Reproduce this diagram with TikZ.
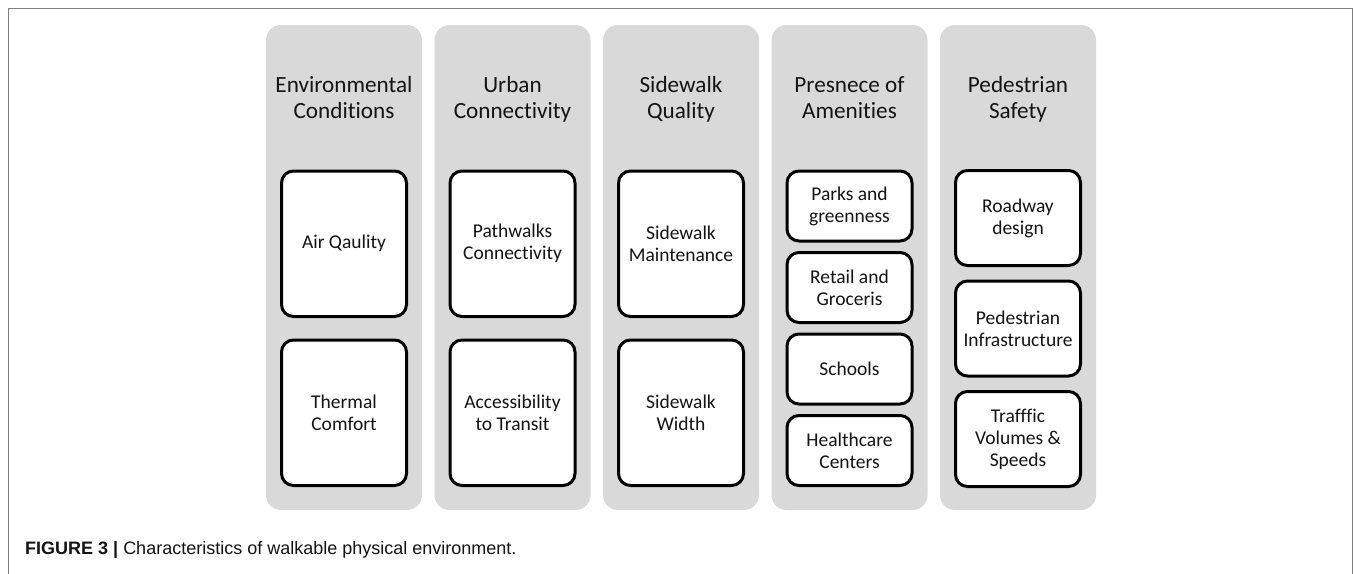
\documentclass[tikz,border=0pt]{standalone}
\usepackage{fontspec}
\setmainfont{Carlito}[Ligatures={NoCommon}]
\newfontfamily\capfont{Liberation Sans}
\definecolor{colbg}{RGB}{217,217,217}
\definecolor{framegray}{RGB}{128,128,128}
\definecolor{txt}{RGB}{20,20,20}
\begin{document}
\begin{tikzpicture}[x=1pt,y=-1pt,
  colbox/.style={fill=colbg, draw=none, rounded corners=15pt, minimum width=156pt, minimum height=485pt, inner sep=0pt},
  coltitle/.style={font=\fontsize{23.2}{26}\selectfont, align=center, inner sep=0pt, text=txt},
  item/.style={draw=black, line width=3pt, fill=white, rounded corners=12pt, minimum width=125pt, align=center, inner sep=0pt, font=\fontsize{19.5}{22}\selectfont, text=txt},
  tall/.style={item, minimum height=145.5pt},
  small/.style={item, minimum height=70pt},
  mid/.style={item, minimum height=95pt},
]
\useasboundingbox (0,0) rectangle (1354,573);
\fill[white] (0,0) rectangle (1354,573);
\draw[framegray, line width=1.6pt] (8.5,580) -- (8.5,8.5) -- (1352.5,8.5) -- (1352.5,580);

% columns
\node[colbox] (c1) at (344,267.5) {};
\node[colbox] (c2) at (512.5,267.5) {};
\node[colbox] (c3) at (681,267.5) {};
\node[colbox] (c4) at (849.5,267.5) {};
\node[colbox] (c5) at (1018,267.5) {};

% titles
\node[coltitle] (t1) at (344,100) {\strut Environmental\\\strut Conditions};
\node[coltitle] (t2) at (512.5,100) {\strut Urban\\\strut Connectivity};
\node[coltitle] (t3) at (681,100) {\strut Sidewalk\\\strut Quality};
\node[coltitle] (t4) at (849.5,100) {\strut Presnece of\\\strut Amenities};
\node[coltitle] (t5) at (1018,100) {\strut Pedestrian\\\strut Safety};

% column 1
\node[tall] (a1) at (344,243.75) {Air Qaulity};
\node[tall] (a2) at (344,412.75) {Thermal\\Comfort};
% column 2
\node[tall] (b1) at (512.5,243.75) {Pathwalks\\Connectivity};
\node[tall] (b2) at (512.5,412.75) {Accessibility\\to Transit};
% column 3
\node[tall] (s1) at (681,243.75) {Sidewalk\\Maintenance};
\node[tall] (s2) at (681,412.75) {Sidewalk\\Width};
% column 4
\node[small] (p1) at (849.5,206) {Parks and\\greenness};
\node[small] (p2) at (849.5,287.5) {Retail and\\Groceris};
\node[small] (p3) at (849.5,369) {Schools};
\node[small] (p4) at (849.5,450.5) {Healthcare\\Centers};
% column 5
\node[mid] (e1) at (1018,218) {Roadway\\design};
\node[mid] (e2) at (1018,328.5) {Pedestrian\\Infrastructure};
\node[mid] (e3) at (1018,439) {Trafffic\\Volumes \&\\Speeds};

% caption
\node[anchor=base west, inner sep=0pt, font=\capfont\fontsize{18}{20}\selectfont, text=txt] (cap) at (25,554) {\textbf{FIGURE 3 |} Characteristics of walkable physical environment.};
\end{tikzpicture}
\end{document}
